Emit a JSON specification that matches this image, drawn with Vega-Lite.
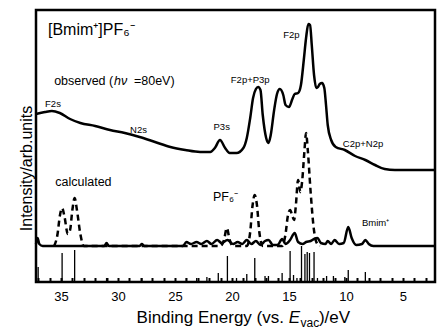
{
  "$schema": "https://vega.github.io/schema/vega-lite/v6.json",
  "width": 399,
  "height": 272,
  "autosize": "none",
  "padding": {"left": 36, "top": 10, "right": 2, "bottom": 48},
  "background": "white",
  "config": {
    "font": "Liberation Sans",
    "view": {"stroke": "black", "strokeWidth": 2.5},
    "text": {"font": "Liberation Sans", "color": "black"}
  },
  "datasets": {
    "observed": [
      {"E": 37.19, "I": 84}, {"E": 36.4, "I": 85}, {"E": 35.8, "I": 85.5}, {"E": 35.1, "I": 84.5},
      {"E": 34.2, "I": 81.5}, {"E": 33.3, "I": 79.5}, {"E": 32.0, "I": 78}, {"E": 30.7, "I": 76},
      {"E": 29.4, "I": 74.5}, {"E": 28.1, "I": 72.5}, {"E": 26.75, "I": 70}, {"E": 25.4, "I": 67.5},
      {"E": 24.1, "I": 66}, {"E": 22.8, "I": 65}, {"E": 21.9, "I": 65}, {"E": 21.5, "I": 67},
      {"E": 21.05, "I": 71}, {"E": 20.6, "I": 67}, {"E": 20.2, "I": 64.5}, {"E": 19.6, "I": 64.5},
      {"E": 19.0, "I": 67}, {"E": 18.7, "I": 72}, {"E": 18.4, "I": 82}, {"E": 18.15, "I": 92},
      {"E": 17.9, "I": 96.5}, {"E": 17.7, "I": 97.5}, {"E": 17.5, "I": 96}, {"E": 17.3, "I": 83.5},
      {"E": 17.0, "I": 72}, {"E": 16.8, "I": 69.5}, {"E": 16.6, "I": 73.5}, {"E": 16.3, "I": 86},
      {"E": 16.05, "I": 94}, {"E": 15.8, "I": 96.5}, {"E": 15.5, "I": 93.5}, {"E": 15.3, "I": 88.5},
      {"E": 15.0, "I": 87.5}, {"E": 14.7, "I": 91.5}, {"E": 14.5, "I": 94}, {"E": 14.2, "I": 94.5},
      {"E": 13.95, "I": 98.5}, {"E": 13.7, "I": 111}, {"E": 13.5, "I": 122}, {"E": 13.3, "I": 129},
      {"E": 13.15, "I": 128.5}, {"E": 13.0, "I": 118.5}, {"E": 12.8, "I": 103.5}, {"E": 12.6, "I": 97},
      {"E": 12.45, "I": 97.5}, {"E": 12.3, "I": 99}, {"E": 12.1, "I": 99.5}, {"E": 11.9, "I": 97},
      {"E": 11.75, "I": 88.5}, {"E": 11.6, "I": 78.5}, {"E": 11.3, "I": 71}, {"E": 10.9, "I": 67.5},
      {"E": 10.1, "I": 66}, {"E": 9.2, "I": 63}, {"E": 8.3, "I": 61}, {"E": 7.45, "I": 58.5},
      {"E": 6.6, "I": 56.5}, {"E": 5.7, "I": 56}, {"E": 2.19, "I": 56}
    ],
    "pf6": [
      {"E": 35.6, "I": 18}, {"E": 35.3, "I": 24}, {"E": 35.1, "I": 33}, {"E": 34.9, "I": 37},
      {"E": 34.7, "I": 33}, {"E": 34.4, "I": 24}, {"E": 34.2, "I": 26}, {"E": 34.0, "I": 36},
      {"E": 33.8, "I": 42}, {"E": 33.6, "I": 36}, {"E": 33.3, "I": 24}, {"E": 33.0, "I": 18},
      {"E": 21.0, "I": 18}, {"E": 20.7, "I": 21}, {"E": 20.45, "I": 27}, {"E": 20.2, "I": 21},
      {"E": 19.9, "I": 18}, {"E": 18.7, "I": 18}, {"E": 18.4, "I": 25}, {"E": 18.2, "I": 38},
      {"E": 18.0, "I": 43.5}, {"E": 17.8, "I": 38}, {"E": 17.6, "I": 25}, {"E": 17.3, "I": 18},
      {"E": 15.6, "I": 18}, {"E": 15.3, "I": 24}, {"E": 15.1, "I": 33}, {"E": 14.9, "I": 36},
      {"E": 14.7, "I": 33}, {"E": 14.55, "I": 31}, {"E": 14.4, "I": 38}, {"E": 14.2, "I": 51},
      {"E": 14.0, "I": 45}, {"E": 13.85, "I": 50}, {"E": 13.65, "I": 65}, {"E": 13.5, "I": 74.5},
      {"E": 13.35, "I": 66}, {"E": 13.1, "I": 45}, {"E": 12.85, "I": 28}, {"E": 12.6, "I": 20},
      {"E": 12.3, "I": 18}
    ],
    "bmim": [
      {"E": 37.19, "I": 19}, {"E": 37.05, "I": 22}, {"E": 36.9, "I": 19}, {"E": 36.6, "I": 18},
      {"E": 31.2, "I": 18}, {"E": 31.0, "I": 19.5}, {"E": 30.8, "I": 18},
      {"E": 28.1, "I": 18}, {"E": 27.9, "I": 19}, {"E": 27.7, "I": 18},
      {"E": 24.3, "I": 18}, {"E": 24.0, "I": 20}, {"E": 23.6, "I": 19}, {"E": 23.1, "I": 20},
      {"E": 22.7, "I": 19}, {"E": 22.2, "I": 20.5}, {"E": 21.8, "I": 19}, {"E": 21.3, "I": 21},
      {"E": 20.9, "I": 19.5}, {"E": 20.4, "I": 21}, {"E": 19.9, "I": 19}, {"E": 19.5, "I": 20},
      {"E": 19.1, "I": 19}, {"E": 18.7, "I": 21}, {"E": 18.3, "I": 19}, {"E": 17.9, "I": 20.5},
      {"E": 17.5, "I": 18.5}, {"E": 17.1, "I": 20.5}, {"E": 16.8, "I": 21}, {"E": 16.4, "I": 18.5},
      {"E": 16.0, "I": 18.5}, {"E": 15.6, "I": 21.5}, {"E": 15.3, "I": 19}, {"E": 14.9, "I": 21},
      {"E": 14.5, "I": 24.5}, {"E": 14.2, "I": 20}, {"E": 13.8, "I": 19}, {"E": 13.5, "I": 20},
      {"E": 13.1, "I": 20.5}, {"E": 12.8, "I": 21.5}, {"E": 12.5, "I": 22}, {"E": 12.2, "I": 19.5},
      {"E": 11.8, "I": 19}, {"E": 11.6, "I": 20.5}, {"E": 11.3, "I": 19}, {"E": 11.0, "I": 21},
      {"E": 10.6, "I": 19}, {"E": 10.2, "I": 19.5}, {"E": 9.8, "I": 27.5}, {"E": 9.5, "I": 22},
      {"E": 9.1, "I": 18.5}, {"E": 8.6, "I": 19}, {"E": 8.3, "I": 21}, {"E": 8.0, "I": 19},
      {"E": 7.6, "I": 18}, {"E": 2.19, "I": 18}
    ],
    "sticks": [
      {"E": 37.0, "h": 7.5}, {"E": 34.9, "h": 14.5}, {"E": 33.8, "h": 16}, {"E": 31.0, "h": 2},
      {"E": 27.9, "h": 2}, {"E": 24.0, "h": 2}, {"E": 23.1, "h": 2}, {"E": 22.2, "h": 2.5},
      {"E": 21.2, "h": 4.5}, {"E": 20.4, "h": 13}, {"E": 19.6, "h": 2}, {"E": 18.7, "h": 4},
      {"E": 18.0, "h": 12}, {"E": 17.1, "h": 3}, {"E": 16.8, "h": 3}, {"E": 15.6, "h": 4.5},
      {"E": 14.9, "h": 15.5}, {"E": 14.6, "h": 3.5}, {"E": 14.3, "h": 2}, {"E": 13.9, "h": 18},
      {"E": 13.6, "h": 14}, {"E": 13.4, "h": 15}, {"E": 13.2, "h": 14.5}, {"E": 12.8, "h": 15},
      {"E": 12.5, "h": 2}, {"E": 11.7, "h": 3}, {"E": 11.1, "h": 3}, {"E": 10.1, "h": 2.5},
      {"E": 9.8, "h": 6}, {"E": 8.3, "h": 5}
    ],
    "peakLabels": [
      {"E": 35.7, "I": 89, "text": "F2s"},
      {"E": 28.2, "I": 76, "text": "N2s"},
      {"E": 20.9, "I": 77.5, "text": "P3s"},
      {"E": 18.4, "I": 101, "text": "F2p+P3p"},
      {"E": 14.78, "I": 123.5, "text": "F2p"},
      {"E": 8.5, "I": 69, "text": "C2p+N2p"}
    ],
    "captions": [
      {"E": 35.6, "I": 100.5, "text": "observed ("},
      {"E": 28.6, "I": 100.5, "text": "=80eV)"},
      {"E": 35.5, "I": 50, "text": "calculated"},
      {"E": 21.67, "I": 42.5, "text": "PF₆⁻"}
    ],
    "italicCaptions": [
      {"E": 30.35, "I": 100.5, "text": "hν"}
    ],
    "species": [
      {"E": 36.14, "I": 126, "text": "[Bmim⁺]PF₆⁻"}
    ],
    "cation": [
      {"E": 8.6, "I": 29.5, "text": "Bmim⁺"}
    ],
    "titleLead": [
      {"E": 15.44, "I": -18, "text": "Binding Energy (vs."}
    ],
    "titleTail": [
      {"E": 12.37, "I": -18, "text": ")/eV"}
    ],
    "titleItalic": [
      {"E": 15.02, "I": -18, "text": "E"}
    ],
    "titleSub": [
      {"E": 13.99, "I": -20.3, "text": "vac"}
    ]
  },
  "encoding": {
    "x": {
      "field": "E", "type": "quantitative",
      "scale": {"domain": [37.19, 2.19], "nice": false, "zero": false},
      "axis": {
        "title": null,
        "values": [3,4,5,6,7,8,9,10,11,12,13,14,15,16,17,18,19,20,21,22,23,24,25,26,27,28,29,30,31,32,33,34,35,36,37],
        "labelExpr": "datum.value % 5 === 0 ? datum.label : ''",
        "grid": false, "domain": false,
        "ticks": true, "tickSize": -4.5, "tickWidth": 2, "tickColor": "black",
        "labelPadding": 13, "labelFontSize": 13, "labelColor": "black", "labelFont": "Liberation Sans",
        "labelFlush": false, "labelOverlap": false
      }
    },
    "y": {
      "field": "I", "type": "quantitative",
      "scale": {"domain": [0, 136], "nice": false, "zero": false},
      "axis": {
        "title": "Intensity/arb.units", "titleFontSize": 16, "titleFontWeight": "normal",
        "titleColor": "black", "titleFont": "Liberation Sans", "titlePadding": 2,
        "titleAnchor": "middle", "titleY": 158,
        "labels": false, "ticks": false, "domain": false, "grid": false
      }
    }
  },
  "layer": [
    {
      "data": {"name": "sticks"},
      "mark": {"type": "rule", "color": "black", "strokeWidth": 1.3},
      "encoding": {"y": {"field": "h", "type": "quantitative"}, "y2": {"datum": 0}}
    },
    {
      "data": {"name": "bmim"},
      "mark": {"type": "line", "color": "black", "strokeWidth": 2.5, "interpolate": "monotone"}
    },
    {
      "data": {"name": "pf6"},
      "mark": {"type": "line", "color": "black", "strokeWidth": 2.5, "strokeDash": [6, 4], "interpolate": "monotone"}
    },
    {
      "data": {"name": "observed"},
      "mark": {"type": "line", "color": "black", "strokeWidth": 2.5, "interpolate": "monotone"}
    },
    {
      "data": {"name": "peakLabels"},
      "mark": {"type": "text", "fontSize": 9.5, "align": "center", "baseline": "middle"},
      "encoding": {"text": {"field": "text"}}
    },
    {
      "data": {"name": "captions"},
      "mark": {"type": "text", "fontSize": 12.5, "align": "left", "baseline": "middle"},
      "encoding": {"text": {"field": "text"}}
    },
    {
      "data": {"name": "italicCaptions"},
      "mark": {"type": "text", "fontSize": 12.5, "fontStyle": "italic", "align": "left", "baseline": "middle"},
      "encoding": {"text": {"field": "text"}}
    },
    {
      "data": {"name": "species"},
      "mark": {"type": "text", "fontSize": 16, "align": "left", "baseline": "middle"},
      "encoding": {"text": {"field": "text"}}
    },
    {
      "data": {"name": "cation"},
      "mark": {"type": "text", "fontSize": 9.5, "align": "left", "baseline": "middle"},
      "encoding": {"text": {"field": "text"}}
    },
    {
      "data": {"name": "titleLead"},
      "mark": {"type": "text", "fontSize": 17, "align": "right", "baseline": "middle"},
      "encoding": {"text": {"field": "text"}}
    },
    {
      "data": {"name": "titleTail"},
      "mark": {"type": "text", "fontSize": 17, "align": "left", "baseline": "middle"},
      "encoding": {"text": {"field": "text"}}
    },
    {
      "data": {"name": "titleItalic"},
      "mark": {"type": "text", "fontSize": 17, "fontStyle": "italic", "align": "left", "baseline": "middle"},
      "encoding": {"text": {"field": "text"}}
    },
    {
      "data": {"name": "titleSub"},
      "mark": {"type": "text", "fontSize": 12, "align": "left", "baseline": "middle"},
      "encoding": {"text": {"field": "text"}}
    }
  ]
}
